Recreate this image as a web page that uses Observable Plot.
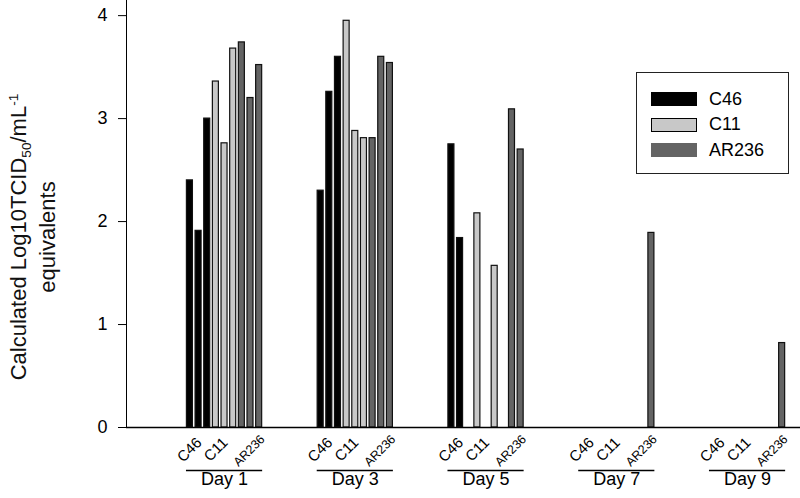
<!DOCTYPE html>
<html>
<head>
<meta charset="utf-8">
<script src="https://cdn.jsdelivr.net/npm/d3@7"></script>
<script src="https://cdn.jsdelivr.net/npm/@observablehq/plot@0.6"></script>
<style>
  html, body { margin: 0; padding: 0; background: #fff; }
  #wrap { position: relative; width: 800px; height: 498px; font-family: "Liberation Sans", Arial, sans-serif; color: #000; }
  #ylabel { position: absolute; left: 32.5px; top: 237px; transform: translate(-50%, -50%) rotate(-90deg);
            white-space: nowrap; text-align: center; font-size: 22px; line-height: 29px; color: #111; }
  #ylabel sub, #ylabel sup { font-size: 0.62em; line-height: 0; }
  #legend { position: absolute; left: 636px; top: 72px; width: 151px; height: 100px; border: 1px solid #222;
            box-sizing: content-box; }
  .row { position: absolute; left: 14px; height: 26px; display: flex; align-items: center; font-size: 18px; }
  .sw { width: 46px; height: 14px; box-sizing: border-box; margin-right: 12px; }
</style>
</head>
<body>
<div id="wrap"></div>
<script>
// ---- data ----
const days = ["Day 1", "Day 3", "Day 5", "Day 7", "Day 9"];
const dayNumbers = [1, 3, 5, 7, 9];
const strains = ["C46", "C11", "AR236"];
// three replicate values per day (0 = nothing detected)
const c46Values   = [[2.40, 1.91, 3.00], [2.30, 3.26, 3.60], [2.75, 1.84, 0], [0, 0, 0], [0, 0, 0]];
const c11Values   = [[3.36, 2.76, 3.68], [3.95, 2.88, 2.81], [2.08, 0, 1.57], [0, 0, 0], [0, 0, 0]];
const ar236Values = [[3.74, 3.20, 3.52], [2.81, 3.60, 3.54], [0, 3.09, 2.70], [0, 0, 1.89], [0, 0, 0.82]];
const yTicks = [0, 1, 2, 3, 4];
const strainColors = ["#000000", "#c8c8c8", "#646464"];

// ---- build tables ----
const seriesValues = [c46Values, c11Values, ar236Values];
const slotWidth = 0.1324; // width of one bar slot, in days
const bars = [];
days.forEach((day, di) => {
  strains.forEach((strain, si) => {
    seriesValues[si][di].forEach((v, r) => {
      bars.push({day, dayNum: dayNumbers[di], strain, slot: si * 3 + r, value: v});
    });
  });
});
const shownBars = bars.filter(d => d.value > 0);
const strainLabels = [];
days.forEach((day, di) => strains.forEach((strain, si) =>
  strainLabels.push({dayNum: dayNumbers[di], strain, slot: si * 3 + 1})));
const dayRows = days.map((day, di) => ({day, dayNum: dayNumbers[di]}));
const slotX = d => d.dayNum + (d.slot - 4) * slotWidth;

const chart = Plot.plot({
  width: 800,
  height: 498,
  marginLeft: 126,
  marginRight: 0,
  marginTop: 0,
  marginBottom: 71,
  style: {fontFamily: "Liberation Sans, Arial, sans-serif", fontSize: "18px", color: "#000", background: "#fff"},
  x: {domain: [-0.5, 9.81], axis: null},
  y: {domain: [0, 4.147], ticks: yTicks, tickSize: 8, tickPadding: 11, line: true, label: null, tickFormat: d3.format("d")},
  color: {domain: strains, range: strainColors},
  marks: [
    Plot.rectY(shownBars, {
      x1: d => slotX(d) - slotWidth / 2,
      x2: d => slotX(d) + slotWidth / 2,
      y1: 0,
      y2: "value",
      fill: "strain",
      stroke: "#111",
      strokeWidth: 1.2,
      insetLeft: 1.3,
      insetRight: 1.35
    }),
    Plot.ruleY([0], {stroke: "#000", strokeWidth: 1.5}),
    Plot.text(strainLabels.filter(d => d.strain !== "AR236"), {
      x: slotX, text: "strain", frameAnchor: "bottom", dy: 16, dx: 4,
      rotate: -45, textAnchor: "end", fontSize: 15
    }),
    Plot.text(strainLabels.filter(d => d.strain === "AR236"), {
      x: slotX, text: "strain", frameAnchor: "bottom", dy: 12.5, dx: 15,
      rotate: -45, textAnchor: "end", fontSize: 12.5
    }),
    Plot.ruleY(dayRows, {
      y: () => 0,
      x1: d => d.dayNum - 4.4 * slotWidth,
      x2: d => d.dayNum + 4.4 * slotWidth,
      dy: 43, stroke: "#000", strokeWidth: 1.3
    }),
    Plot.text(dayRows, {x: "dayNum", text: "day", frameAnchor: "bottom", dy: 57, fontSize: 18})
  ]
});

const wrap = document.getElementById("wrap");
wrap.appendChild(chart);

const yl = document.createElement("div");
yl.id = "ylabel";
yl.innerHTML = "Calculated Log10TCID<sub>50</sub>/mL<sup>-1</sup><br>equivalents";
wrap.appendChild(yl);

const legend = document.createElement("div");
legend.id = "legend";
strains.forEach((s, i) => {
  const row = document.createElement("div");
  row.className = "row";
  row.style.top = (13 + i * 25.5) + "px";
  const sw = document.createElement("div");
  sw.className = "sw";
  sw.style.background = strainColors[i];
  if (s === "C11") sw.style.border = "1.5px solid #000";
  const tx = document.createElement("span");
  tx.textContent = s;
  row.appendChild(sw);
  row.appendChild(tx);
  legend.appendChild(row);
});
wrap.appendChild(legend);
</script>
</body>
</html>
